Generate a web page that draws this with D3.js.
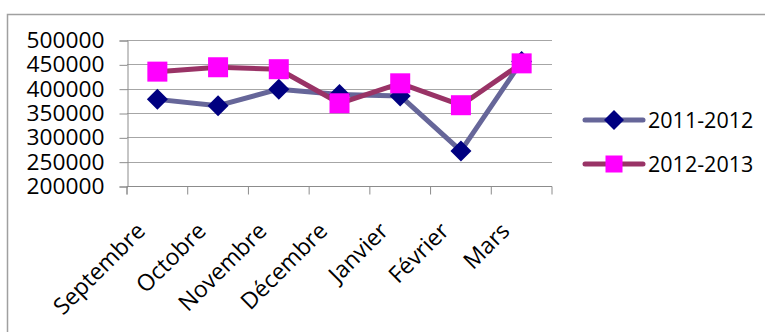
<!DOCTYPE html>
<html><head><meta charset="utf-8">
<script src="https://cdn.jsdelivr.net/npm/d3@7"></script>
<style>body{margin:0;background:#fff}svg{display:block}</style>
</head><body>
<svg id="c" width="765" height="332"></svg>
<script>
const categories = ["Septembre","Octobre","Novembre","Décembre","Janvier","Février","Mars"];
const series2011 = [378000, 365000, 399000, 388000, 385000, 272000, 456000];
const series2013 = [435000, 444000, 440000, 370000, 411000, 366000, 452000];
const seriesNames = ["2011-2012","2012-2013"];
const yTicks = [200000,250000,300000,350000,400000,450000,500000];

(function(){
const svg = d3.select("#c");
const FONT = "'Open Sans', sans-serif";
const pLeft = 127, pRight = 552, pTop = 40, pBottom = 186;

// frame
svg.append("path").attr("d","M7.5,332 V14.5 H765").attr("fill","none").attr("stroke","#a0a0a0").attr("stroke-width",1.5);

const x = d3.scaleBand().domain(categories).range([pLeft,pRight]);
const y = d3.scaleLinear().domain([200000,500000]).range([pBottom,pTop]);

// gridlines
svg.append("g").selectAll("line").data(yTicks.slice(1)).join("line")
  .attr("x1",pLeft).attr("x2",pRight).attr("y1",d=>Math.round(y(d))+0.5).attr("y2",d=>Math.round(y(d))+0.5)
  .attr("stroke","#a6a6a6").attr("stroke-width",1);

// y axis
const yAxis = d3.axisLeft(y).tickValues(yTicks).tickSize(8).tickPadding(15).tickFormat(d3.format("d"));
const gy = svg.append("g").attr("transform",`translate(${pLeft+0.5},0.5)`).call(yAxis);
gy.select(".domain").attr("stroke","#8c8c8c");
gy.selectAll(".tick line").attr("stroke","#8c8c8c");
gy.selectAll("text").attr("font-family",FONT).attr("font-size",21.5).attr("fill","#000")
  .attr("textLength",78).attr("lengthAdjust","spacingAndGlyphs");

// x axis
const xAxis = d3.axisBottom(x).tickSize(8).tickFormat("");
const gx = svg.append("g").attr("transform",`translate(0,${pBottom+0.5})`).call(xAxis);
gx.select(".domain").attr("stroke","#8c8c8c").attr("d",`M${pLeft},8V0H${pRight}V8`);
gx.selectAll(".tick line").attr("stroke","#8c8c8c").attr("transform",`translate(${-x.bandwidth()/2},0)`);

// x labels rotated
svg.append("g").selectAll("text").data(categories).join("text")
  .attr("transform",d=>`translate(${x(d)+x.bandwidth()/2-22},${pBottom+35}) rotate(-45)`)
  .attr("text-anchor","end").attr("dy","0.7em")
  .attr("font-family",FONT).attr("font-size",23).attr("fill","#000").text(d=>d);

const cx = d => x(d)+x.bandwidth()/2;
const line = d3.line().x((v,i)=>cx(categories[i])).y(v=>y(v));

const cfg = [
  {data:series2011, stroke:"#666699", fill:"#000080", shape:"diamond"},
  {data:series2013, stroke:"#993366", fill:"#ff00ff", shape:"square"}
];

cfg.forEach(s=>{
  svg.append("path").datum(s.data).attr("d",line).attr("fill","none")
    .attr("stroke",s.stroke).attr("stroke-width",5).attr("stroke-linejoin","round");
});
function marker(g, shape, fill, size){
  if(shape==="diamond"){
    const h=size/2;
    g.append("path").attr("d",`M0,${-h}L${h},0L0,${h}L${-h},0Z`).attr("fill",fill);
  } else {
    g.append("rect").attr("x",-size/2).attr("y",-size/2).attr("width",size).attr("height",size).attr("fill",fill);
  }
}
cfg.forEach(s=>{
  s.data.forEach((v,i)=>{
    const g = svg.append("g").attr("transform",`translate(${cx(categories[i])},${y(v)})`);
    marker(g, s.shape, s.fill, s.shape==="diamond"?21:20);
  });
});

// legend
const ly = [120,164];
cfg.forEach((s,i)=>{
  const g = svg.append("g").attr("transform",`translate(0,${ly[i]})`);
  g.append("line").attr("x1",585).attr("x2",643).attr("y1",0).attr("y2",0)
    .attr("stroke",s.stroke).attr("stroke-width",5).attr("stroke-linecap","round");
  const m = g.append("g").attr("transform","translate(614,0)");
  marker(m, s.shape, s.fill, s.shape==="diamond"?20:17);
  g.append("text").attr("x",648).attr("y",0).attr("dy","0.36em")
    .attr("font-family",FONT).attr("font-size",21.5).attr("fill","#000").text(seriesNames[i]);
});
})();
</script>
</body></html>
